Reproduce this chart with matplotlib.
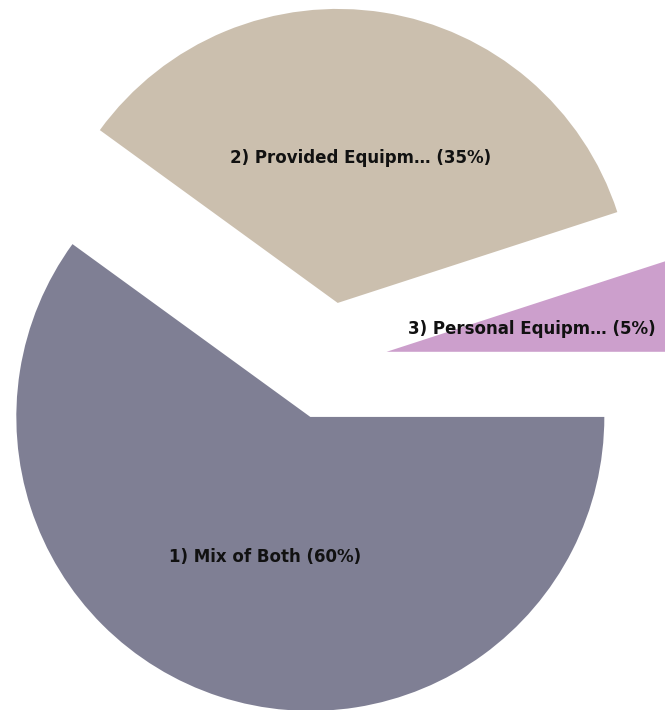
import matplotlib
matplotlib.use('Agg')
import matplotlib.pyplot as plt

# --- Data ---
labels = ['1) Mix of Both (60%)', '2) Provided Equipm\u2026 (35%)', '3) Personal Equipm\u2026 (5%)']
shares = [60, 35, 5]
colors = ['#7f7f94', '#cbbfae', '#cc9fcc']

# pixel geometry of the original render
W, H = 665, 710
CX, CY, R = 328.5, 361, 294

fig = plt.figure(figsize=(W / 100, H / 100), dpi=100)
ax = fig.add_axes([0, 0, 1, 1])

ax.pie(shares, labels=labels, colors=colors, startangle=0, counterclock=False,
       explode=[0.2] * 3, radius=1, labeldistance=0.5,
       wedgeprops={'linewidth': 0},
       textprops={'ha': 'center', 'va': 'center', 'fontsize': 12,
                  'fontweight': 'bold', 'color': '#111111',
                  'family': 'DejaVu Sans'})

ax.set_xlim(-CX / R, (W - CX) / R)
ax.set_ylim(-(H - CY) / R, CY / R)
ax.set_aspect('auto')
ax.axis('off')

fig.savefig('out.png', dpi=100)
